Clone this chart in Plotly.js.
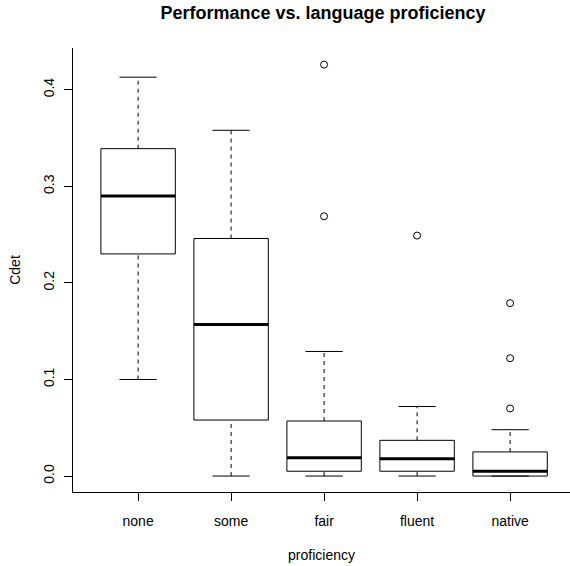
<!DOCTYPE html>
<html>
<head>
<meta charset="utf-8">
<script src="https://cdn.plot.ly/plotly-3.0.1.min.js"></script>
<style>html,body{margin:0;padding:0;background:#fff;}#chart{width:570px;height:566px;}</style>
</head>
<body>
<div id="chart"></div>
<script>
// Data
const categories = ["none", "some", "fair", "fluent", "native"];
const lowerWhisker = [0.100, 0.000, 0.000, 0.000, 0.000];
const q1 = [0.230, 0.058, 0.005, 0.005, 0.000];
const median = [0.290, 0.157, 0.019, 0.018, 0.005];
const q3 = [0.339, 0.246, 0.057, 0.037, 0.025];
const upperWhisker = [0.413, 0.358, 0.129, 0.072, 0.048];
const outlierCat = ["fair", "fair", "fluent", "native", "native", "native"];
const outlierVal = [0.426, 0.269, 0.249, 0.179, 0.122, 0.070];
const yTicks = [0.0, 0.1, 0.2, 0.3, 0.4];

const boxHalf = 0.4, capHalf = 0.2;
const pos = categories.map((c, i) => i + 1);

const wx = [], wy = [], bx = [], by = [], mx = [], my = [];
categories.forEach((c, i) => {
  const p = pos[i];
  // dashed whiskers
  wx.push(p, p, null, p, p, null);
  wy.push(lowerWhisker[i], q1[i], null, q3[i], upperWhisker[i], null);
  // caps
  bx.push(p - capHalf, p + capHalf, null, p - capHalf, p + capHalf, null);
  by.push(lowerWhisker[i], lowerWhisker[i], null, upperWhisker[i], upperWhisker[i], null);
  // box
  bx.push(p - boxHalf, p + boxHalf, p + boxHalf, p - boxHalf, p - boxHalf, null);
  by.push(q1[i], q1[i], q3[i], q3[i], q1[i], null);
  // median
  mx.push(p - boxHalf, p + boxHalf, null);
  my.push(median[i], median[i], null);
});

const traces = [
  {type: 'scatter', mode: 'lines', x: wx, y: wy, line: {color: '#000', width: 1, dash: '4px,4px'}, hoverinfo: 'skip', showlegend: false},
  {type: 'scatter', mode: 'lines', x: bx, y: by, line: {color: '#000', width: 1}, hoverinfo: 'skip', showlegend: false},
  {type: 'scatter', mode: 'lines', x: mx, y: my, line: {color: '#000', width: 3}, hoverinfo: 'skip', showlegend: false},
  {type: 'scatter', mode: 'markers', x: outlierCat.map(c => categories.indexOf(c) + 1), y: outlierVal,
   marker: {symbol: 'circle-open', size: 7, color: '#000', line: {width: 1, color: '#000'}}, hoverinfo: 'skip', showlegend: false}
];

const font = {family: 'Liberation Sans, Arial, sans-serif', size: 14, color: '#000'};
const layout = {
  width: 570, height: 566,
  margin: {l: 73, r: 0, t: 48, b: 74, pad: 0},
  paper_bgcolor: '#fff', plot_bgcolor: '#fff',
  font: font,
  showlegend: false,
  title: {text: '<b>Performance vs. language proficiency</b>', font: {family: 'Liberation Sans, Arial, sans-serif', size: 18, color: '#000'},
          xref: 'container', x: 323 / 570, xanchor: 'center', yref: 'container', y: 1 - 13 / 566, yanchor: 'middle'},
  xaxis: {
    range: [0.3, 0.3 + 497 / 93], tickvals: pos, ticktext: categories,
    showline: true, linecolor: '#000', linewidth: 1, mirror: false,
    ticks: 'outside', ticklen: 8, tickcolor: '#000', tickwidth: 1, ticklabelstandoff: 8,
    showgrid: false, zeroline: false, tickfont: font,
    title: {text: 'proficiency', font: font, standoff: 22}
  },
  yaxis: {
    range: [-0.0165, 0.4432], tickvals: yTicks, ticktext: yTicks.map(v => v.toFixed(1)),
    showline: true, linecolor: '#000', linewidth: 1, mirror: false,
    ticks: 'outside', ticklen: 8, tickcolor: '#000', tickwidth: 1, tickangle: -90, ticklabelstandoff: 4,
    showgrid: false, zeroline: false, tickfont: font,
    title: {text: 'Cdet', font: font, standoff: 17}
  }
};

Plotly.newPlot('chart', traces, layout, {staticPlot: true, displayModeBar: false});
</script>
</body>
</html>
